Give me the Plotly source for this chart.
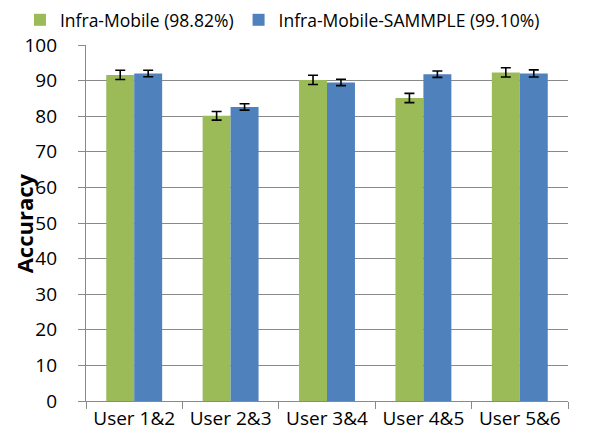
import plotly.graph_objects as go

# data
users = ['User 1&2', 'User 2&3', 'User 3&4', 'User 4&5', 'User 5&6']
infra_mobile = [91.6, 80.1, 90.2, 85.1, 92.3]
infra_mobile_err = [1.3, 1.2, 1.3, 1.3, 1.3]
sammple = [92.0, 82.6, 89.5, 91.8, 92.0]
sammple_err = [0.9, 0.9, 0.9, 0.9, 1.0]

GREEN = '#9BBB59'
BLUE = '#4F81BD'
GRID = '#898989'
FONT = 'Open Sans'

fig = go.Figure()

fig.add_trace(go.Bar(
    x=users,
    y=infra_mobile,
    name='Infra-Mobile (98.82%)',
    marker_color=GREEN,
    marker_line_width=0,
    error_y=dict(type='data', array=infra_mobile_err, color='black',
                 thickness=1.6, width=5),
))
fig.add_trace(go.Bar(
    x=users,
    y=sammple,
    name='Infra-Mobile-SAMMPLE (99.10%)',
    marker_color=BLUE,
    marker_line_width=0,
    error_y=dict(type='data', array=sammple_err, color='black',
                 thickness=1.6, width=5),
))

# page body has an 8px margin, so the figure is sized to fit the window
fig.update_layout(
    width=592,
    height=434,
    barmode='group',
    bargap=0.42,
    bargroupgap=0,
    plot_bgcolor='white',
    paper_bgcolor='white',
    font=dict(family=FONT, size=19, color='black'),
    margin=dict(l=78, r=32, t=37, b=41, autoexpand=False),
    legend=dict(
        orientation='h',
        x=-0.137,
        xanchor='left',
        y=1.121,
        yanchor='top',
        font=dict(size=17.5),
        itemwidth=30,
        traceorder='normal',
        bgcolor='rgba(0,0,0,0)',
    ),
    showlegend=True,
)

# y axis title as an annotation so it can sit further left than the margin allows
fig.add_annotation(
    text='<b>Accuracy</b>',
    xref='paper', yref='paper',
    x=-0.128, y=0.5,
    xanchor='center', yanchor='middle',
    textangle=-90,
    showarrow=False,
    borderpad=0,
    font=dict(size=22),
)

fig.update_xaxes(
    showline=True,
    linecolor=GRID,
    linewidth=1.3,
    ticks='outside',
    tickson='boundaries',
    ticklen=7,
    tickcolor=GRID,
    tickfont=dict(size=19),
    showgrid=False,
)

fig.update_yaxes(
    range=[0, 100],
    dtick=10,
    showline=True,
    linecolor=GRID,
    linewidth=1.3,
    ticks='outside',
    ticklen=7,
    tickcolor=GRID,
    showgrid=True,
    gridcolor=GRID,
    gridwidth=1.3,
    zeroline=False,
    tickfont=dict(size=19),
    ticklabelstandoff=17,
)

fig.write_html('out.html')
